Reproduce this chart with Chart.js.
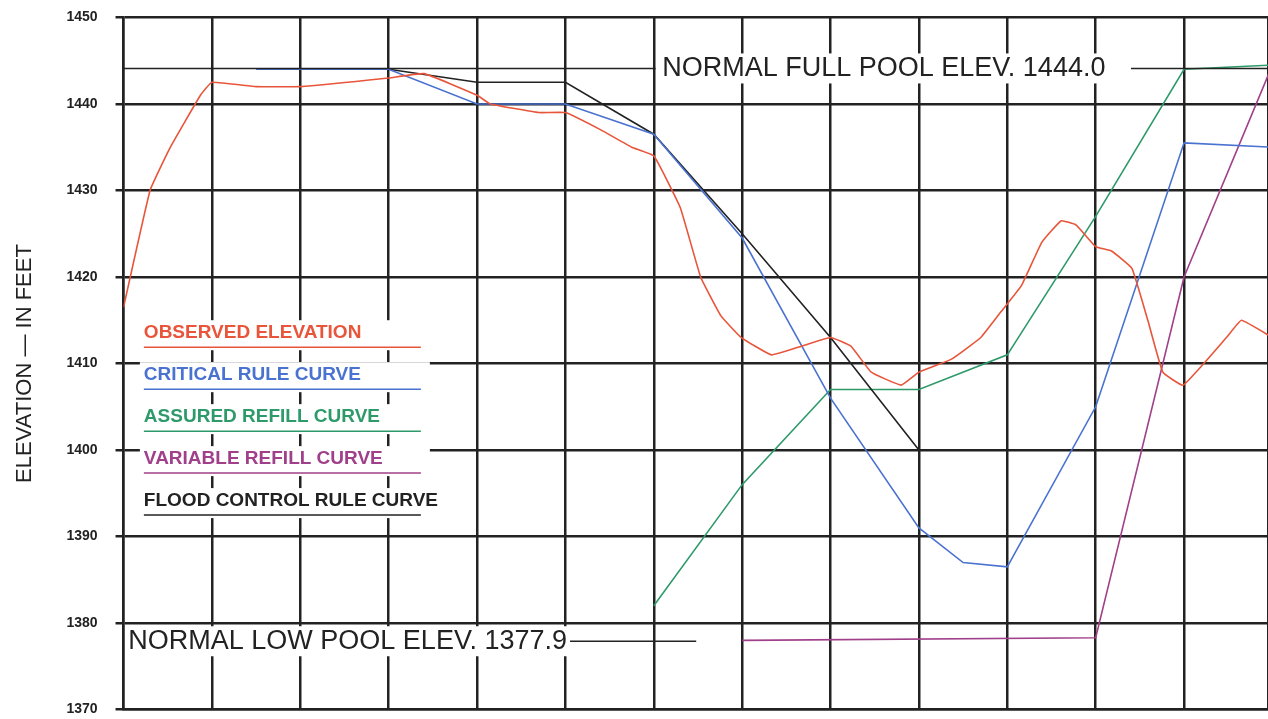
<!DOCTYPE html>
<html>
<head>
<meta charset="utf-8">
<script src="https://cdn.jsdelivr.net/npm/chart.js@4/dist/chart.umd.min.js"></script>
<style>
  body { margin: 0; background: #fff; overflow: hidden; }
  #wrap { width: 1268px; height: 745px; margin-top: -9px; }
</style>
</head>
<body>
<div id="wrap"><canvas id="elevChart"></canvas></div>
<script>
// x is in grid columns (0 = left axis), y in feet
var observedX = [0, 0.3, 0.53, 0.87, 1, 1.5, 2, 3, 3.4, 4, 4.15, 4.7, 5, 5.4, 5.75, 6, 6.3, 6.53, 6.76, 6.99, 7.33, 7.67, 8, 8.23, 8.46, 8.8, 9, 9.37, 9.7, 9.93, 10.16, 10.39, 10.61, 10.78, 11, 11.18, 11.41, 11.59, 11.76, 11.99, 12.48, 12.65, 13];
var observedY = [1416.5, 1430, 1435, 1441, 1442.5, 1442, 1442, 1443, 1443.5, 1441, 1440, 1439, 1439, 1437, 1435, 1434, 1428, 1420, 1415.5, 1413, 1411, 1412, 1413, 1412, 1409, 1407.5, 1409, 1410.5, 1413, 1416, 1419, 1424, 1426.5, 1426, 1423.5, 1423, 1421, 1415, 1409, 1407.5, 1413, 1415, 1413];
var criticalX = [1.5, 3, 4, 5, 6, 7, 8, 9, 9.5, 10, 11, 12, 13];
var criticalY = [1444, 1444, 1440, 1440, 1436.5, 1424.5, 1406, 1391, 1387, 1386.5, 1405, 1435.5, 1435];
var floodX = [3, 4, 5, 6, 7, 8, 9];
var floodY = [1444, 1442.5, 1442.5, 1436.5, 1425, 1413, 1400];
var assuredX = [6, 7, 8, 9, 10, 11, 12, 13];
var assuredY = [1382, 1396, 1407, 1407, 1411, 1427, 1444, 1444.5];
var variableX = [7, 11, 12, 13];
var variableY = [1378, 1378.3, 1420, 1444.5];
var yTicks = [1370, 1380, 1390, 1400, 1410, 1420, 1430, 1440, 1450];

function pts(xs, ys) {
  return xs.map(function(x, i) { return { x: x, y: ys[i] }; });
}

var legendItems = [
  { text: "OBSERVED ELEVATION", color: "#e8553a" },
  { text: "CRITICAL RULE CURVE", color: "#4a72d0" },
  { text: "ASSURED REFILL CURVE", color: "#2e9a6a" },
  { text: "VARIABLE REFILL CURVE", color: "#a0408a" },
  { text: "FLOOD CONTROL RULE CURVE", color: "#222222" }
];

var notes = {
  id: "notes",
  afterDatasetsDraw: function(chart) {
    var c = chart.ctx, xs = chart.scales.x, ys = chart.scales.y;
    c.save();
    // pool lines
    c.strokeStyle = "#222"; c.lineWidth = 1.5;
    var yf = ys.getPixelForValue(1444.1);
    c.beginPath(); c.moveTo(xs.getPixelForValue(0), yf); c.lineTo(xs.getPixelForValue(6.02), yf);
    c.moveTo(xs.getPixelForValue(11.4), yf); c.lineTo(xs.getPixelForValue(13), yf); c.stroke();
    var yl = ys.getPixelForValue(1377.9);
    c.beginPath(); c.moveTo(xs.getPixelForValue(5.05), yl); c.lineTo(xs.getPixelForValue(6.48), yl); c.stroke();
    c.font = "27px 'Liberation Sans', sans-serif";
    c.textBaseline = "middle";
    var tf = "NORMAL FULL POOL ELEV. 1444.0";
    var wf = c.measureText(tf).width;
    var xf = xs.getPixelForValue(6.05);
    c.fillStyle = "#fff"; c.fillRect(xf - 2, yf - 15, wf + 8, 30);
    c.fillStyle = "#222"; c.fillText(tf, xf + 4, yf);
    var tl = "NORMAL LOW POOL ELEV. 1377.9";
    var wl = c.measureText(tl).width;
    var xl = xs.getPixelForValue(0.02);
    c.fillStyle = "#fff"; c.fillRect(xl, yl - 15, wl + 6, 30);
    c.fillStyle = "#222"; c.fillText(tl, xl + 3, yl);
    // legend
    c.font = "bold 19px 'Liberation Sans', sans-serif";
    var lx = xs.getPixelForValue(0.23);
    legendItems.forEach(function(it, i) {
      var ly = ys.getPixelForValue(1413.5 - i * 4.85);
      c.fillStyle = "#fff"; c.fillRect(lx - 4, ly - 13, 290, 30);
      c.fillStyle = it.color; c.fillText(it.text, lx, ly);
      c.strokeStyle = it.color; c.lineWidth = 1.5;
      c.beginPath(); c.moveTo(lx, ly + 14); c.lineTo(lx + 277, ly + 14); c.stroke();
    });
    c.restore();
  }
};

function line(data, color) {
  return { data: data, borderColor: color, borderWidth: 1.6, pointRadius: 0, fill: false, tension: 0 };
}

var ctx = document.getElementById("elevChart").getContext("2d");
var elevChart = new Chart(ctx, {
  type: "line",
  data: {
    datasets: [
      Object.assign(line(pts(observedX, observedY), "#e8553a"), { tension: 0.1 }),
      line(pts(criticalX, criticalY), "#4a72d0"),
      line(pts(floodX, floodY), "#222"),
      line(pts(assuredX, assuredY), "#2e9a6a"),
      line(pts(variableX, variableY), "#a0408a")
    ]
  },
  options: {
    responsive: true,
    maintainAspectRatio: false,
    animation: false,
    layout: { padding: { top: 8, right: 0, bottom: 0, left: 8 } },
    plugins: { legend: { display: false }, tooltip: { enabled: false } },
    scales: {
      x: {
        type: "linear", min: 0, max: 12.95,
        ticks: { display: false, stepSize: 1, padding: 0 },
        grid: { color: "#222", lineWidth: 2.5, drawTicks: false },
        border: { color: "#222", width: 2.5 }
      },
      y: {
        min: 1370, max: 1450,
        afterBuildTicks: function(axis) { axis.ticks = yTicks.map(function(v) { return { value: v }; }); },
        ticks: {
          color: "#222", font: { size: 14, weight: "bold", family: "'Liberation Sans', sans-serif" }, padding: 18,
          callback: function(v) { return String(v); }
        },
        grid: { color: "#222", lineWidth: 2.5, tickLength: 8 },
        border: { color: "#222", width: 2.5 },
        title: { display: true, text: "ELEVATION — IN FEET", color: "#222", font: { size: 22, family: "'Liberation Sans', sans-serif" }, padding: { bottom: 10 } }
      }
    }
  },
  plugins: [notes]
});
</script>
</body>
</html>
